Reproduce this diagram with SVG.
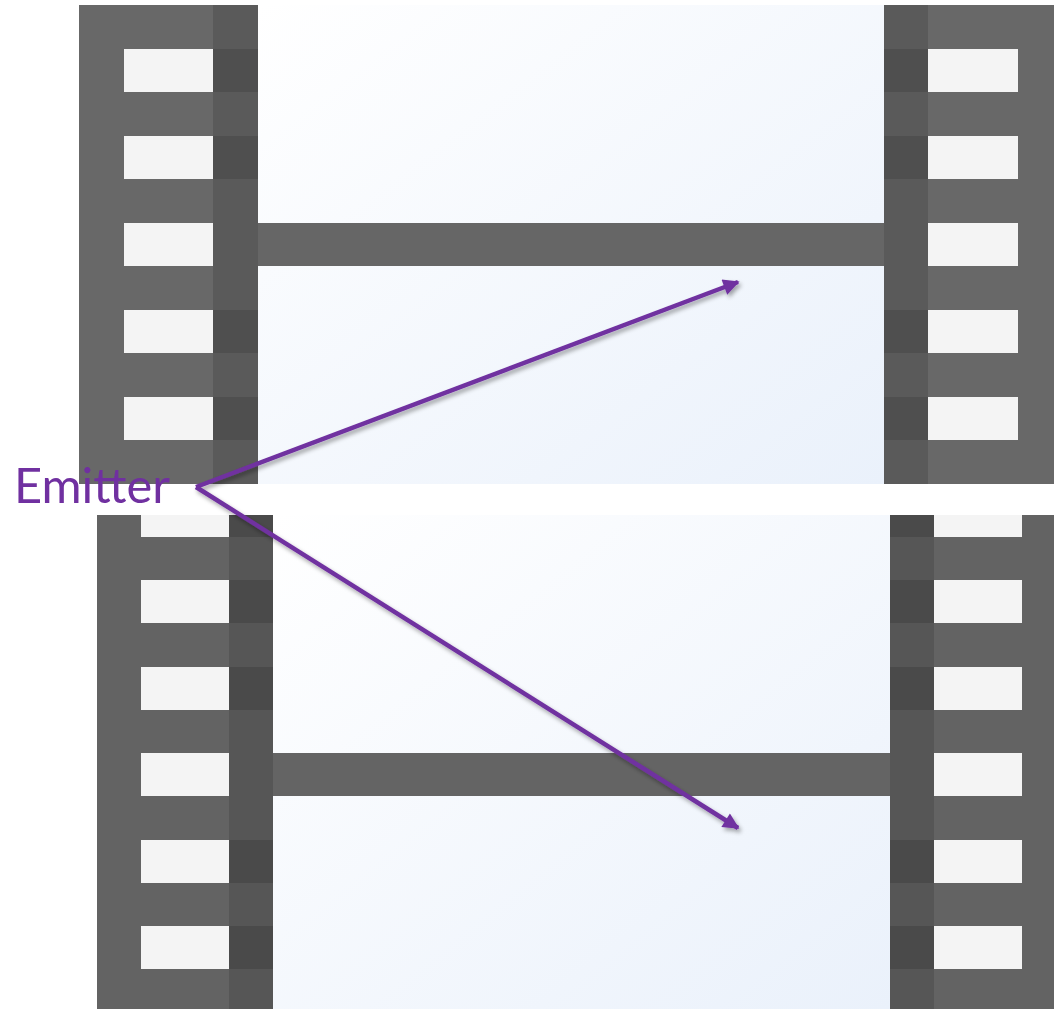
<svg xmlns="http://www.w3.org/2000/svg" width="1054" height="1009" viewBox="0 0 1054 1009">
  <defs>
    <linearGradient id="frameGrad" x1="0" y1="0" x2="1" y2="1">
      <stop offset="0" stop-color="#ffffff"/>
      <stop offset="1" stop-color="#eaf1fb"/>
    </linearGradient>
    <marker id="arrow" viewBox="0 0 10 10" refX="9" refY="5" markerWidth="4" markerHeight="3.6" orient="auto" markerUnits="strokeWidth">
      <path d="M0,0 L10,5 L0,10 Z" fill="#7030a0"/>
    </marker>
    <filter id="shadow" x="-10%" y="-10%" width="120%" height="120%">
      <feDropShadow dx="2" dy="3" stdDeviation="2" flood-color="#000" flood-opacity="0.35"/>
    </filter>
    <style>
      .outer1 { fill: #686868; }
      .mid1 { fill: #5a5a5a; }
      .dark1 { fill: #4f4f4f; }
      .outer2 { fill: #636363; }
      .mid2 { fill: #565656; }
      .dark2 { fill: #4a4a4a; }
      .hole { fill: #f4f4f4; }
      .bar1 { fill: #666666; }
      .bar2 { fill: #646464; }
      .conn { stroke: #7030a0; stroke-width: 4.5; fill: none; marker-end: url(#arrow); }
      .label { font-family: "Lato", "Open Sans", sans-serif; font-size: 49px; fill: #7030a0; }
    </style>
  </defs>
  <rect width="1054" height="1009" fill="#ffffff"/>

  <g id="film-top">
    <rect x="258" y="5" width="626" height="479" fill="url(#frameGrad)"/>
    <rect class="bar1" x="258" y="223" width="626" height="43"/>
    <!-- left strip -->
    <rect class="outer1" x="79" y="5" width="134" height="479"/>
    <rect class="mid1" x="213" y="5" width="45" height="479"/>
    <rect class="dark1" x="213" y="49" width="45" height="43"/>
    <rect class="dark1" x="213" y="136" width="45" height="43"/>
    <rect class="dark1" x="213" y="310" width="45" height="43"/>
    <rect class="dark1" x="213" y="397" width="45" height="43"/>
    <rect class="hole" x="124" y="49" width="89" height="43"/>
    <rect class="hole" x="124" y="136" width="89" height="43"/>
    <rect class="hole" x="124" y="223" width="89" height="43"/>
    <rect class="hole" x="124" y="310" width="89" height="43"/>
    <rect class="hole" x="124" y="397" width="89" height="43"/>
    <!-- right strip -->
    <rect class="mid1" x="884" y="5" width="44" height="479"/>
    <rect class="outer1" x="928" y="5" width="126" height="479"/>
    <rect class="dark1" x="884" y="49" width="44" height="43"/>
    <rect class="dark1" x="884" y="136" width="44" height="43"/>
    <rect class="dark1" x="884" y="310" width="44" height="43"/>
    <rect class="dark1" x="884" y="397" width="44" height="43"/>
    <rect class="hole" x="928" y="49" width="90" height="43"/>
    <rect class="hole" x="928" y="136" width="90" height="43"/>
    <rect class="hole" x="928" y="223" width="90" height="43"/>
    <rect class="hole" x="928" y="310" width="90" height="43"/>
    <rect class="hole" x="928" y="397" width="90" height="43"/>
  </g>

  <g id="film-bottom">
    <rect x="273" y="515" width="617" height="494" fill="url(#frameGrad)"/>
    <rect class="bar2" x="273" y="753" width="617" height="43"/>
    <!-- left strip -->
    <rect class="outer2" x="97" y="515" width="132" height="494"/>
    <rect class="mid2" x="229" y="515" width="44" height="494"/>
    <rect class="dark2" x="229" y="515" width="44" height="22"/>
    <rect class="dark2" x="229" y="580" width="44" height="43"/>
    <rect class="dark2" x="229" y="667" width="44" height="43"/>
    <rect class="dark2" x="229" y="840" width="44" height="43"/>
    <rect class="dark2" x="229" y="926" width="44" height="43"/>
    <rect class="hole" x="141" y="515" width="88" height="22"/>
    <rect class="hole" x="141" y="580" width="88" height="43"/>
    <rect class="hole" x="141" y="667" width="88" height="43"/>
    <rect class="hole" x="141" y="753" width="88" height="43"/>
    <rect class="hole" x="141" y="840" width="88" height="43"/>
    <rect class="hole" x="141" y="926" width="88" height="43"/>
    <!-- right strip -->
    <rect class="mid2" x="890" y="515" width="44" height="494"/>
    <rect class="outer2" x="934" y="515" width="120" height="494"/>
    <rect class="dark2" x="890" y="515" width="44" height="22"/>
    <rect class="dark2" x="890" y="580" width="44" height="43"/>
    <rect class="dark2" x="890" y="667" width="44" height="43"/>
    <rect class="dark2" x="890" y="840" width="44" height="43"/>
    <rect class="dark2" x="890" y="926" width="44" height="43"/>
    <rect class="hole" x="934" y="515" width="88" height="22"/>
    <rect class="hole" x="934" y="580" width="88" height="43"/>
    <rect class="hole" x="934" y="667" width="88" height="43"/>
    <rect class="hole" x="934" y="753" width="88" height="43"/>
    <rect class="hole" x="934" y="840" width="88" height="43"/>
    <rect class="hole" x="934" y="926" width="88" height="43"/>
  </g>

  <g id="emitter">
    <text class="label" x="14" y="503" textLength="156" lengthAdjust="spacingAndGlyphs">Emitter</text>
  </g>

  <g id="connectors" filter="url(#shadow)">
    <path class="conn" d="M196,487 L738,282"/>
    <path class="conn" d="M196,487 L738,828"/>
  </g>
</svg>
